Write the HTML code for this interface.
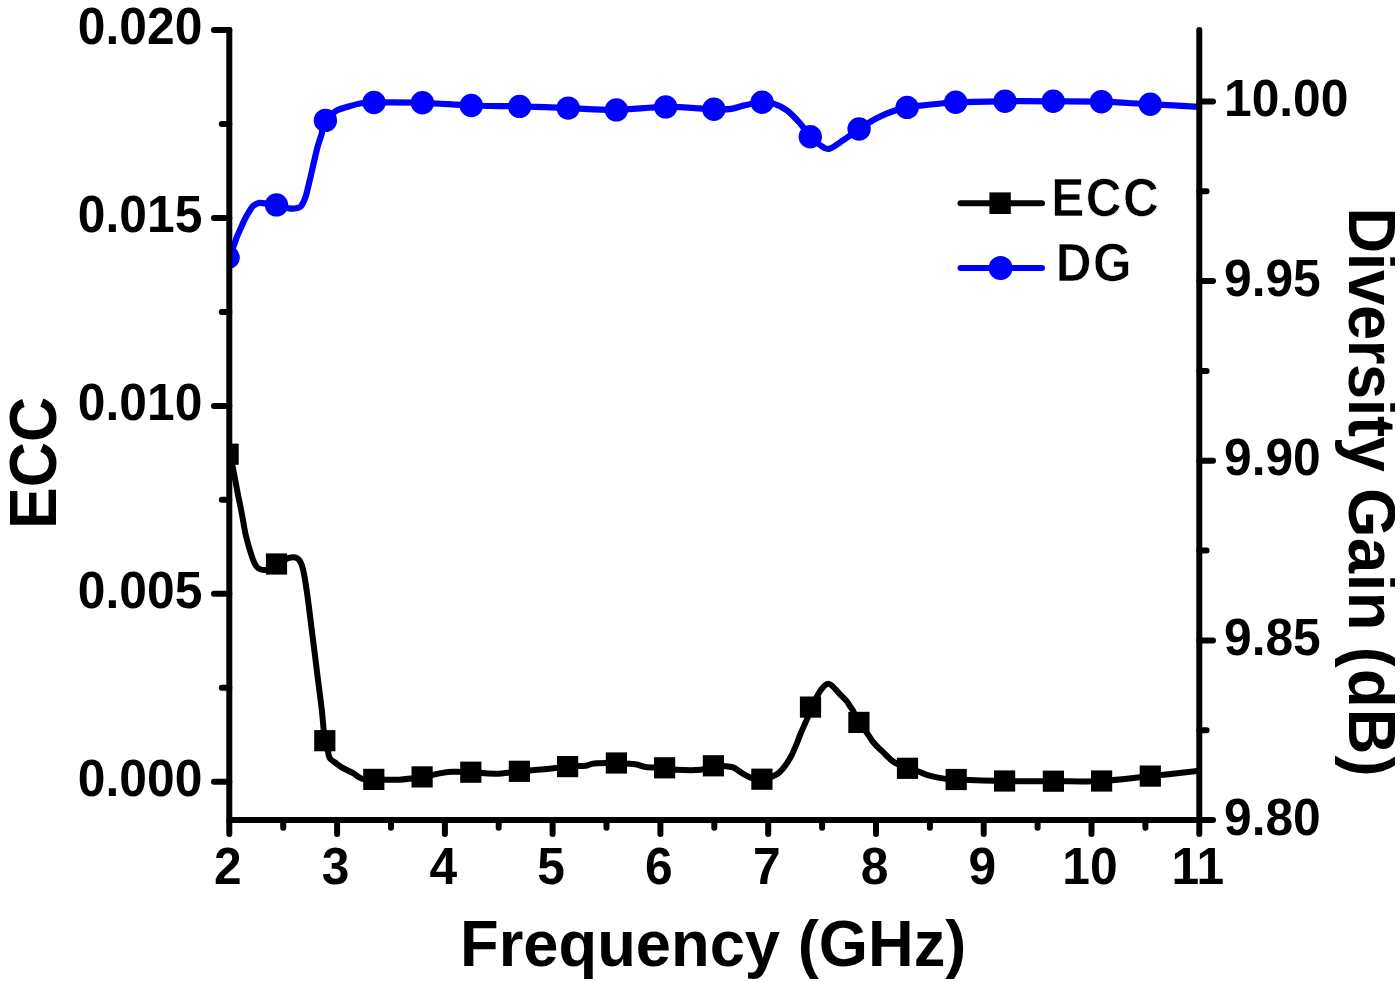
<!DOCTYPE html>
<html lang="en"><head><meta charset="utf-8"><title>ECC and Diversity Gain vs Frequency</title>
<style>
html,body{margin:0;padding:0;background:#fff;}
body{width:1400px;height:982px;overflow:hidden;}
svg{display:block;}
text{font-family:"Liberation Sans",sans-serif;fill:#000;}
.tick{font-weight:bold;}
.title{font-weight:bold;}
.leg{font-weight:bold;stroke:#fff;stroke-width:0.7px;}
</style></head><body>
<svg width="1400" height="982" viewBox="0 0 1400 982">
<rect width="1400" height="982" fill="#fff"/>
<defs><clipPath id="plot"><rect x="229.3" y="0" width="970" height="820"/></clipPath></defs>
<g>
<g clip-path="url(#plot)">
<path d="M228.1 257.5C228.6 256.5 230.6 253.4 231.5 251.5C232.4 249.6 232.8 248.4 233.7 246.0C234.6 243.6 235.8 239.8 236.9 236.9C238.1 234.0 239.3 231.5 240.6 228.6C241.9 225.7 243.3 222.2 244.7 219.4C246.1 216.7 247.5 214.2 248.8 212.1C250.1 210.0 251.3 208.0 252.5 206.6C253.7 205.2 255.0 204.5 256.2 203.9C257.4 203.3 258.3 203.0 259.8 202.9C261.3 202.8 262.5 203.1 265.3 203.4C268.1 203.7 272.5 204.1 276.5 204.9C280.5 205.7 285.7 207.9 289.2 208.4C292.7 208.9 295.4 208.4 297.4 208.0C299.4 207.6 300.0 207.2 301.1 206.1C302.2 204.9 303.1 202.9 303.9 201.1C304.7 199.3 305.1 198.5 306.0 195.5C306.9 192.5 307.9 187.9 309.1 183.0C310.3 178.1 311.6 172.2 313.0 166.2C314.4 160.2 316.1 152.3 317.5 147.1C318.9 141.9 320.1 139.2 321.4 134.8C322.7 130.4 323.1 124.3 325.4 120.4C327.7 116.5 331.7 113.6 335.4 111.3C339.1 109.0 343.4 108.1 347.7 106.8C352.0 105.5 356.8 104.0 361.2 103.3C365.6 102.6 363.8 102.6 374.0 102.5C384.2 102.4 406.2 102.3 422.4 102.8C438.6 103.3 455.1 104.9 471.3 105.5C487.5 106.1 503.5 106.0 519.6 106.4C535.8 106.8 552.1 107.5 568.2 108.1C584.3 108.7 600.1 110.1 616.4 109.9C632.6 109.7 649.5 107.0 665.7 106.9C682.0 106.8 703.0 109.0 713.9 109.3C724.8 109.6 726.3 109.6 731.4 108.9C736.5 108.2 739.2 106.5 744.3 105.4C749.4 104.3 757.1 102.5 762.1 102.2C767.1 102.0 770.1 102.5 774.3 103.9C778.5 105.3 782.8 107.2 787.1 110.4C791.4 113.6 796.1 118.8 800.0 123.2C803.9 127.6 807.0 133.1 810.3 136.7C813.6 140.3 816.9 143.0 820.0 145.0C823.1 147.0 825.1 149.7 828.9 148.9C832.7 148.1 837.9 143.7 842.9 140.4C847.9 137.1 853.4 132.8 859.1 129.0C864.8 125.2 871.2 120.9 877.1 117.9C883.0 114.9 889.3 112.5 894.3 110.8C899.3 109.0 901.8 108.4 907.1 107.4C912.5 106.4 920.7 105.7 926.4 105.0C932.1 104.3 936.5 104.0 941.4 103.5C946.3 103.0 945.1 102.6 955.7 102.2C966.3 101.8 988.8 101.5 1005.0 101.3C1021.2 101.1 1037.1 101.2 1053.2 101.3C1069.3 101.4 1085.2 101.2 1101.4 101.7C1117.6 102.2 1134.0 103.5 1150.3 104.3C1166.6 105.1 1191.1 106.4 1199.3 106.8" fill="none" stroke="#0000ff" stroke-width="6.2" stroke-linejoin="round" stroke-linecap="round"/>
<g fill="#0000ff">
<circle cx="228.1" cy="257.5" r="11.7"/>
<circle cx="276.5" cy="204.9" r="11.7"/>
<circle cx="325.4" cy="120.4" r="11.7"/>
<circle cx="374" cy="102.5" r="11.7"/>
<circle cx="422.4" cy="102.8" r="11.7"/>
<circle cx="471.3" cy="105.5" r="11.7"/>
<circle cx="519.6" cy="106.4" r="11.7"/>
<circle cx="568.2" cy="108.1" r="11.7"/>
<circle cx="616.4" cy="109.9" r="11.7"/>
<circle cx="665.7" cy="106.9" r="11.7"/>
<circle cx="713.9" cy="109.3" r="11.7"/>
<circle cx="762.1" cy="102.2" r="11.7"/>
<circle cx="810.3" cy="136.7" r="11.7"/>
<circle cx="859.1" cy="129" r="11.7"/>
<circle cx="907.1" cy="107.4" r="11.7"/>
<circle cx="955.7" cy="102.2" r="11.7"/>
<circle cx="1005" cy="101.3" r="11.7"/>
<circle cx="1053.2" cy="101.3" r="11.7"/>
<circle cx="1101.4" cy="101.7" r="11.7"/>
<circle cx="1150.3" cy="104.3" r="11.7"/>
</g>
<path d="M228.1 454.2C228.8 455.9 230.7 458.5 232.2 464.6C233.7 470.8 235.8 483.3 237.3 491.1C238.8 498.9 240.0 504.4 241.4 511.5C242.8 518.6 244.0 527.1 245.5 533.9C247.0 540.7 249.0 547.3 250.5 552.2C252.0 557.1 253.2 560.7 254.6 563.4C256.0 566.1 256.8 567.4 258.7 568.5C260.6 569.6 262.8 570.6 265.8 569.9C268.8 569.1 272.6 566.0 276.5 564.0C280.4 562.0 285.7 558.9 289.2 557.9C292.7 556.9 295.3 557.2 297.4 558.3C299.4 559.4 300.3 561.3 301.5 564.4C302.7 567.5 303.5 571.2 304.5 576.6C305.5 582.0 306.2 587.0 307.6 597.0C309.0 607.0 310.9 623.3 312.6 636.7C314.3 650.1 316.2 665.2 317.7 677.4C319.2 689.6 320.6 699.5 321.8 710.0C323.0 720.5 323.8 733.8 324.8 740.7C325.8 747.6 327.3 749.0 328.0 751.6C328.7 754.2 328.4 754.8 328.9 756.1C329.4 757.4 329.9 758.5 330.9 759.5C331.9 760.5 332.9 760.9 334.8 762.3C336.8 763.7 339.6 766.1 342.6 767.9C345.6 769.7 350.1 771.4 352.7 772.9C355.3 774.4 356.5 775.8 358.3 776.8C360.1 777.8 360.8 778.7 363.4 779.1C366.0 779.5 367.8 779.3 373.8 779.4C379.8 779.5 391.3 780.1 399.4 779.7C407.4 779.3 415.0 778.0 422.1 776.9C429.2 775.8 437.2 773.8 442.3 772.9C447.4 772.0 447.9 771.9 452.6 771.8C457.4 771.7 463.7 771.9 470.8 772.2C477.9 772.5 487.3 773.9 495.4 773.7C503.5 773.6 510.8 772.1 519.4 771.3C528.0 770.5 538.9 769.9 546.9 769.1C554.9 768.3 561.1 767.2 567.6 766.6C574.1 766.0 581.2 766.2 585.7 765.7C590.2 765.2 589.2 763.9 594.3 763.4C599.4 762.9 609.5 762.9 616.4 763.0C623.2 763.1 630.5 763.6 635.4 764.3C640.3 764.9 640.8 766.3 645.7 766.9C650.6 767.5 659.5 767.3 664.6 767.8C669.8 768.3 670.6 769.5 676.6 769.8C682.6 770.1 694.5 770.5 700.6 769.8C706.7 769.1 709.5 766.4 713.4 765.8C717.2 765.2 720.4 765.7 723.7 766.0C727.0 766.3 730.1 766.2 733.1 767.4C736.1 768.5 738.6 771.1 741.7 772.9C744.8 774.7 748.3 777.0 751.7 778.0C755.1 779.0 758.5 779.4 761.9 779.2C765.3 779.0 769.1 777.9 772.0 776.8C774.9 775.7 777.0 774.5 779.3 772.5C781.6 770.5 783.6 768.0 785.7 765.0C787.8 762.0 790.2 758.1 792.1 754.3C794.0 750.5 796.0 745.5 797.4 742.0C798.8 738.5 799.0 737.6 800.7 733.5C802.4 729.4 805.8 721.9 807.8 717.4C809.8 712.9 810.8 709.9 812.5 706.2C814.2 702.5 816.3 697.8 817.8 695.0C819.3 692.2 820.2 690.9 821.4 689.3C822.6 687.7 823.7 686.2 824.9 685.3C826.1 684.4 827.5 683.7 828.8 683.9C830.1 684.1 831.1 684.8 832.8 686.4C834.5 688.0 837.0 691.1 839.2 693.5C841.5 695.9 844.4 698.4 846.3 700.7C848.2 703.0 849.4 705.3 850.6 707.1C851.8 708.9 852.1 708.8 853.4 711.4C854.7 714.0 856.3 718.9 858.6 722.5C860.9 726.1 864.8 729.9 867.0 732.9C869.2 735.9 870.2 738.2 872.0 740.6C873.8 743.0 876.0 745.2 877.7 747.0C879.4 748.8 879.9 749.0 882.1 751.1C884.3 753.2 888.2 757.5 890.7 759.6C893.2 761.7 894.3 762.5 897.1 763.9C899.9 765.3 904.0 767.0 907.5 768.3C911.0 769.5 914.3 770.2 917.9 771.4C921.5 772.6 924.7 774.5 929.3 775.7C933.9 777.0 941.1 778.3 945.6 778.9C950.1 779.5 946.4 779.1 956.2 779.5C966.0 779.9 988.4 780.7 1004.6 781.0C1020.8 781.3 1037.2 781.2 1053.4 781.2C1069.6 781.2 1085.4 781.9 1101.6 781.0C1117.8 780.1 1134.0 777.8 1150.3 776.1C1166.6 774.4 1191.1 771.7 1199.3 770.8" fill="none" stroke="#000" stroke-width="6" stroke-linejoin="round" stroke-linecap="round"/>
<g fill="#000">
<rect x="217.5" y="443.6" width="21.2" height="21.2"/>
<rect x="265.9" y="553.4" width="21.2" height="21.2"/>
<rect x="314.2" y="730.1" width="21.2" height="21.2"/>
<rect x="363.2" y="768.8" width="21.2" height="21.2"/>
<rect x="411.5" y="766.3" width="21.2" height="21.2"/>
<rect x="460.2" y="761.6" width="21.2" height="21.2"/>
<rect x="508.8" y="760.7" width="21.2" height="21.2"/>
<rect x="557" y="756" width="21.2" height="21.2"/>
<rect x="605.8" y="752.4" width="21.2" height="21.2"/>
<rect x="654" y="757.2" width="21.2" height="21.2"/>
<rect x="702.8" y="755.2" width="21.2" height="21.2"/>
<rect x="751.3" y="768.6" width="21.2" height="21.2"/>
<rect x="799.9" y="696.5" width="21.2" height="21.2"/>
<rect x="848.3" y="711.8" width="21.2" height="21.2"/>
<rect x="896.9" y="757.7" width="21.2" height="21.2"/>
<rect x="945.6" y="768.9" width="21.2" height="21.2"/>
<rect x="994" y="770.4" width="21.2" height="21.2"/>
<rect x="1042.8" y="770.6" width="21.2" height="21.2"/>
<rect x="1091" y="770.4" width="21.2" height="21.2"/>
<rect x="1139.7" y="765.5" width="21.2" height="21.2"/>
</g>
</g>
<g stroke="#000" stroke-width="6" stroke-linecap="round" fill="none">
<path d="M229.3 30 V820 H1199.3 V30"/>
<path d="M229.3 781.7 h-15.3M229.3 687.7 h-7.5M229.3 593.8 h-15.3M229.3 499.8 h-7.5M229.3 405.9 h-15.3M229.3 311.9 h-7.5M229.3 217.9 h-15.3M229.3 124 h-7.5M229.3 30 h-15.3"/>
<path d="M1199.3 820 h13.7M1199.3 730.2 h7.3M1199.3 640.4 h13.7M1199.3 550.5 h7.3M1199.3 460.7 h13.7M1199.3 370.9 h7.3M1199.3 281 h13.7M1199.3 191.2 h7.3M1199.3 101.4 h13.7"/>
<path d="M229.3 820 v14.1M283.2 820 v7.7M337.1 820 v14.1M391 820 v7.7M444.9 820 v14.1M498.7 820 v7.7M552.6 820 v14.1M606.5 820 v7.7M660.4 820 v14.1M714.3 820 v7.7M768.2 820 v14.1M822.1 820 v7.7M876 820 v14.1M929.9 820 v7.7M983.7 820 v14.1M1037.6 820 v7.7M1091.5 820 v14.1M1145.4 820 v7.7M1199.3 820 v14.1"/>
</g>
<text class="tick" transform="translate(202.3 795.7) scale(0.9600 1)" text-anchor="end" style="font-size:51.8px">0.000</text>
<text class="tick" transform="translate(202.3 607.8) scale(0.9600 1)" text-anchor="end" style="font-size:51.8px">0.005</text>
<text class="tick" transform="translate(202.3 419.9) scale(0.9600 1)" text-anchor="end" style="font-size:51.8px">0.010</text>
<text class="tick" transform="translate(202.3 231.9) scale(0.9600 1)" text-anchor="end" style="font-size:51.8px">0.015</text>
<text class="tick" transform="translate(202.3 44) scale(0.9600 1)" text-anchor="end" style="font-size:51.8px">0.020</text>
<text class="tick" transform="translate(1224 834.6) scale(0.9600 1)" text-anchor="start" style="font-size:51.8px">9.80</text>
<text class="tick" transform="translate(1224 655) scale(0.9600 1)" text-anchor="start" style="font-size:51.8px">9.85</text>
<text class="tick" transform="translate(1224 475.3) scale(0.9600 1)" text-anchor="start" style="font-size:51.8px">9.90</text>
<text class="tick" transform="translate(1224 295.6) scale(0.9600 1)" text-anchor="start" style="font-size:51.8px">9.95</text>
<text class="tick" transform="translate(1224 116) scale(0.9600 1)" text-anchor="start" style="font-size:51.8px">10.00</text>
<text class="tick" transform="translate(227.8 884.3) scale(0.9600 1)" text-anchor="middle" style="font-size:51.8px">2</text>
<text class="tick" transform="translate(335.6 884.3) scale(0.9600 1)" text-anchor="middle" style="font-size:51.8px">3</text>
<text class="tick" transform="translate(443.4 884.3) scale(0.9600 1)" text-anchor="middle" style="font-size:51.8px">4</text>
<text class="tick" transform="translate(551.1 884.3) scale(0.9600 1)" text-anchor="middle" style="font-size:51.8px">5</text>
<text class="tick" transform="translate(658.9 884.3) scale(0.9600 1)" text-anchor="middle" style="font-size:51.8px">6</text>
<text class="tick" transform="translate(766.7 884.3) scale(0.9600 1)" text-anchor="middle" style="font-size:51.8px">7</text>
<text class="tick" transform="translate(874.5 884.3) scale(0.9600 1)" text-anchor="middle" style="font-size:51.8px">8</text>
<text class="tick" transform="translate(982.2 884.3) scale(0.9600 1)" text-anchor="middle" style="font-size:51.8px">9</text>
<text class="tick" transform="translate(1090 884.3) scale(0.9600 1)" text-anchor="middle" style="font-size:51.8px">10</text>
<text class="tick" transform="translate(1197.8 884.3) scale(0.9600 1)" text-anchor="middle" style="font-size:51.8px">11</text>
<text class="title" transform="translate(460 965.8) scale(0.9815 1)" text-anchor="start" style="font-size:64.5px">Frequency (GHz)</text>
<text class="title" transform="translate(56 529) rotate(-90) scale(0.9510 1)" text-anchor="start" style="font-size:65.8px">ECC</text>
<text class="title" transform="translate(1349 207.5) rotate(90) scale(0.9450 1)" text-anchor="start" style="font-size:66.9px"><tspan style="letter-spacing:-0.35px">Diversity</tspan><tspan dx="-1.69" style="letter-spacing:0.63px"> Gain</tspan><tspan dx="-3.25" style="letter-spacing:1.24px"> (dB)</tspan></text>
<rect x="1395" y="0" width="5" height="982" fill="#fff"/>
<g stroke-linecap="round" stroke-width="6">
<path d="M960.5 203.2H1042" stroke="#000"/>
<path d="M960.5 268H1042" stroke="#0000ff"/>
</g>
<rect x="989.4" y="192.4" width="21.4" height="21.6" fill="#000"/>
<circle cx="1000.6" cy="268" r="12" fill="#0000ff"/>
<text class="leg" transform="translate(1051.3 215.9) scale(0.9350 1)" text-anchor="start" style="font-size:53px;letter-spacing:1.50px">ECC</text>
<text class="leg" transform="translate(1055.7 281) scale(0.9350 1)" text-anchor="start" style="font-size:53px;letter-spacing:1.50px">DG</text>
</g>
</svg>
</body></html>
